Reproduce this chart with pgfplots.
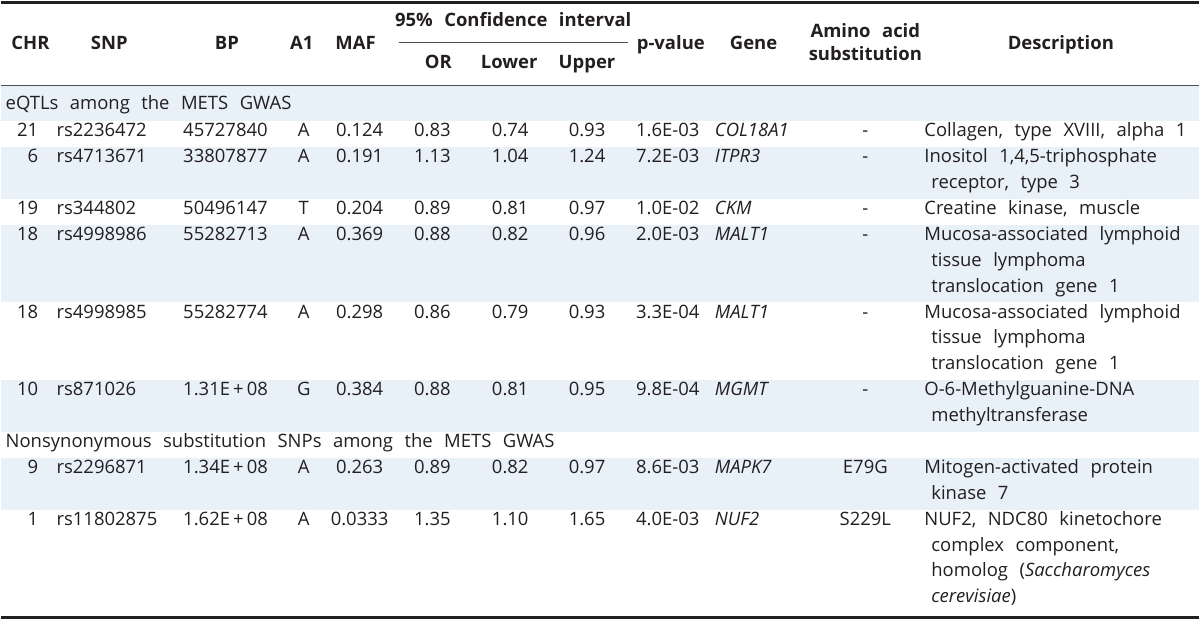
\documentclass[border=0pt]{standalone}
\usepackage{pgfplots}
\pgfplotsset{compat=1.18}
\usepackage{fontspec}
\setmainfont{Open Sans}
\definecolor{band}{HTML}{E8F0F8}
\definecolor{ink}{HTML}{231F20}
\newcommand{\tf}{\fontsize{18.5}{22}\selectfont\spaceskip=11.5pt\relax}
\begin{document}
\begin{tikzpicture}[every node/.style={inner sep=0pt, text=ink, font=\tf}]
\begin{axis}[scale only axis, width=1200pt, height=623pt, xmin=0, xmax=1200, ymin=0, ymax=623, y dir=reverse, hide axis, clip=false]
\fill[white] (axis cs:0,0) rectangle (axis cs:1200,623);
% bands
\fill[band] (axis cs:0,86.5) rectangle (axis cs:1200,121.5);
\fill[band] (axis cs:0,147.5) rectangle (axis cs:1200,199.4);
\fill[band] (axis cs:0,225.3) rectangle (axis cs:1200,303.2);
\fill[band] (axis cs:0,381.0) rectangle (axis cs:1200,432.9);
\fill[band] (axis cs:0,458.9) rectangle (axis cs:1200,510.8);
% rules
\draw[line width=3pt, ink] (axis cs:0,3) -- (axis cs:1200,3);
\draw[line width=1pt, ink!80] (axis cs:0,86) -- (axis cs:1200,86);
\draw[line width=1pt, ink!80] (axis cs:398,43) -- (axis cs:628,43);
\draw[line width=3pt, ink] (axis cs:0,619) -- (axis cs:1200,619);
% header
\begin{scope}[every node/.append style={font=\tf\bfseries}]
\node[anchor=mid] at (axis cs:29,47) {CHR};
\node[anchor=mid] at (axis cs:108,47) {SNP};
\node[anchor=mid] at (axis cs:226,47) {BP};
\node[anchor=mid] at (axis cs:301,47) {A1};
\node[anchor=mid] at (axis cs:355,47) {MAF};
\node[anchor=mid] at (axis cs:513,24) {95\% Confidence interval};
\node[anchor=mid] at (axis cs:438,66) {OR};
\node[anchor=mid] at (axis cs:509,66) {Lower};
\node[anchor=mid] at (axis cs:587,66) {Upper};
\node[anchor=mid] at (axis cs:671,47) {p-value};
\node[anchor=mid] at (axis cs:754,47) {Gene};
\node[anchor=mid] at (axis cs:866,35) {Amino acid};
\node[anchor=mid] at (axis cs:866,58) {substitution};
\node[anchor=mid] at (axis cs:1062,47) {Description};
\end{scope}
% sections
\node[anchor=mid west] at (axis cs:4,107.5) {eQTLs among the METS GWAS};
\node[anchor=mid west] at (axis cs:4,445.9) {Nonsynonymous substitution SNPs among the METS GWAS};
% row 21
\node[anchor=mid east] at (axis cs:37,134.5) {21};
\node[anchor=mid west] at (axis cs:55,134.5) {rs2236472};
\node[anchor=mid west] at (axis cs:182,134.5) {45727840};
\node[anchor=mid] at (axis cs:303,134.5) {A};
\node[anchor=mid] at (axis cs:359,134.5) {0.124};
\node[anchor=mid] at (axis cs:432,134.5) {0.83};
\node[anchor=mid] at (axis cs:510,134.5) {0.74};
\node[anchor=mid] at (axis cs:587,134.5) {0.93};
\node[anchor=mid west] at (axis cs:636,134.5) {1.6E-03};
\node[anchor=mid west] at (axis cs:715,134.5) {\itshape COL18A1};
\node[anchor=mid] at (axis cs:866,134.5) {-};
\node[anchor=mid west] at (axis cs:925,134.5) {Collagen, type XVIII, alpha 1};
% row 6
\node[anchor=mid east] at (axis cs:37,160.45) {6};
\node[anchor=mid west] at (axis cs:55,160.45) {rs4713671};
\node[anchor=mid west] at (axis cs:182,160.45) {33807877};
\node[anchor=mid] at (axis cs:303,160.45) {A};
\node[anchor=mid] at (axis cs:359,160.45) {0.191};
\node[anchor=mid] at (axis cs:432,160.45) {1.13};
\node[anchor=mid] at (axis cs:510,160.45) {1.04};
\node[anchor=mid] at (axis cs:587,160.45) {1.24};
\node[anchor=mid west] at (axis cs:636,160.45) {7.2E-03};
\node[anchor=mid west] at (axis cs:715,160.45) {\itshape ITPR3};
\node[anchor=mid] at (axis cs:866,160.45) {-};
\node[anchor=mid west] at (axis cs:925,160.45) {Inositol 1,4,5-triphosphate};
\node[anchor=mid west] at (axis cs:932,186.4) {receptor, type 3};
% row 19
\node[anchor=mid east] at (axis cs:37,212.35) {19};
\node[anchor=mid west] at (axis cs:55,212.35) {rs344802};
\node[anchor=mid west] at (axis cs:182,212.35) {50496147};
\node[anchor=mid] at (axis cs:303,212.35) {T};
\node[anchor=mid] at (axis cs:359,212.35) {0.204};
\node[anchor=mid] at (axis cs:432,212.35) {0.89};
\node[anchor=mid] at (axis cs:510,212.35) {0.81};
\node[anchor=mid] at (axis cs:587,212.35) {0.97};
\node[anchor=mid west] at (axis cs:636,212.35) {1.0E-02};
\node[anchor=mid west] at (axis cs:715,212.35) {\itshape CKM};
\node[anchor=mid] at (axis cs:866,212.35) {-};
\node[anchor=mid west] at (axis cs:925,212.35) {Creatine kinase, muscle};
% row 18a
\node[anchor=mid east] at (axis cs:37,238.3) {18};
\node[anchor=mid west] at (axis cs:55,238.3) {rs4998986};
\node[anchor=mid west] at (axis cs:182,238.3) {55282713};
\node[anchor=mid] at (axis cs:303,238.3) {A};
\node[anchor=mid] at (axis cs:359,238.3) {0.369};
\node[anchor=mid] at (axis cs:432,238.3) {0.88};
\node[anchor=mid] at (axis cs:510,238.3) {0.82};
\node[anchor=mid] at (axis cs:587,238.3) {0.96};
\node[anchor=mid west] at (axis cs:636,238.3) {2.0E-03};
\node[anchor=mid west] at (axis cs:715,238.3) {\itshape MALT1};
\node[anchor=mid] at (axis cs:866,238.3) {-};
\node[anchor=mid west] at (axis cs:925,238.3) {Mucosa-associated lymphoid};
\node[anchor=mid west] at (axis cs:932,264.25) {tissue lymphoma};
\node[anchor=mid west] at (axis cs:932,290.2) {translocation gene 1};
% row 18b
\node[anchor=mid east] at (axis cs:37,316.15) {18};
\node[anchor=mid west] at (axis cs:55,316.15) {rs4998985};
\node[anchor=mid west] at (axis cs:182,316.15) {55282774};
\node[anchor=mid] at (axis cs:303,316.15) {A};
\node[anchor=mid] at (axis cs:359,316.15) {0.298};
\node[anchor=mid] at (axis cs:432,316.15) {0.86};
\node[anchor=mid] at (axis cs:510,316.15) {0.79};
\node[anchor=mid] at (axis cs:587,316.15) {0.93};
\node[anchor=mid west] at (axis cs:636,316.15) {3.3E-04};
\node[anchor=mid west] at (axis cs:715,316.15) {\itshape MALT1};
\node[anchor=mid] at (axis cs:866,316.15) {-};
\node[anchor=mid west] at (axis cs:925,316.15) {Mucosa-associated lymphoid};
\node[anchor=mid west] at (axis cs:932,342.1) {tissue lymphoma};
\node[anchor=mid west] at (axis cs:932,368.05) {translocation gene 1};
% row 10
\node[anchor=mid east] at (axis cs:37,394.0) {10};
\node[anchor=mid west] at (axis cs:55,394.0) {rs871026};
\node[anchor=mid west] at (axis cs:182,394.0) {1.31E\,+\,08};
\node[anchor=mid] at (axis cs:303,394.0) {G};
\node[anchor=mid] at (axis cs:359,394.0) {0.384};
\node[anchor=mid] at (axis cs:432,394.0) {0.88};
\node[anchor=mid] at (axis cs:510,394.0) {0.81};
\node[anchor=mid] at (axis cs:587,394.0) {0.95};
\node[anchor=mid west] at (axis cs:636,394.0) {9.8E-04};
\node[anchor=mid west] at (axis cs:715,394.0) {\itshape MGMT};
\node[anchor=mid] at (axis cs:866,394.0) {-};
\node[anchor=mid west] at (axis cs:925,394.0) {O-6-Methylguanine-DNA};
\node[anchor=mid west] at (axis cs:932,419.95) {methyltransferase};
% row 9
\node[anchor=mid east] at (axis cs:37,471.85) {9};
\node[anchor=mid west] at (axis cs:55,471.85) {rs2296871};
\node[anchor=mid west] at (axis cs:182,471.85) {1.34E\,+\,08};
\node[anchor=mid] at (axis cs:303,471.85) {A};
\node[anchor=mid] at (axis cs:359,471.85) {0.263};
\node[anchor=mid] at (axis cs:432,471.85) {0.89};
\node[anchor=mid] at (axis cs:510,471.85) {0.82};
\node[anchor=mid] at (axis cs:587,471.85) {0.97};
\node[anchor=mid west] at (axis cs:636,471.85) {8.6E-03};
\node[anchor=mid west] at (axis cs:715,471.85) {\itshape MAPK7};
\node[anchor=mid] at (axis cs:866,471.85) {E79G};
\node[anchor=mid west] at (axis cs:925,471.85) {Mitogen-activated protein};
\node[anchor=mid west] at (axis cs:932,497.8) {kinase 7};
% row 1
\node[anchor=mid east] at (axis cs:37,523.75) {1};
\node[anchor=mid west] at (axis cs:55,523.75) {rs11802875};
\node[anchor=mid west] at (axis cs:182,523.75) {1.62E\,+\,08};
\node[anchor=mid] at (axis cs:303,523.75) {A};
\node[anchor=mid] at (axis cs:359,523.75) {0.0333};
\node[anchor=mid] at (axis cs:432,523.75) {1.35};
\node[anchor=mid] at (axis cs:510,523.75) {1.10};
\node[anchor=mid] at (axis cs:587,523.75) {1.65};
\node[anchor=mid west] at (axis cs:636,523.75) {4.0E-03};
\node[anchor=mid west] at (axis cs:715,523.75) {\itshape NUF2};
\node[anchor=mid] at (axis cs:866,523.75) {S229L};
\node[anchor=mid west] at (axis cs:925,523.75) {NUF2, NDC80 kinetochore};
\node[anchor=mid west] at (axis cs:932,549.7) {complex component,};
\node[anchor=mid west] at (axis cs:932,575.65) {homolog (\textit{Saccharomyces}};
\node[anchor=mid west] at (axis cs:932,601.6) {\textit{cerevisiae})};
\end{axis}
\end{tikzpicture}
\end{document}
